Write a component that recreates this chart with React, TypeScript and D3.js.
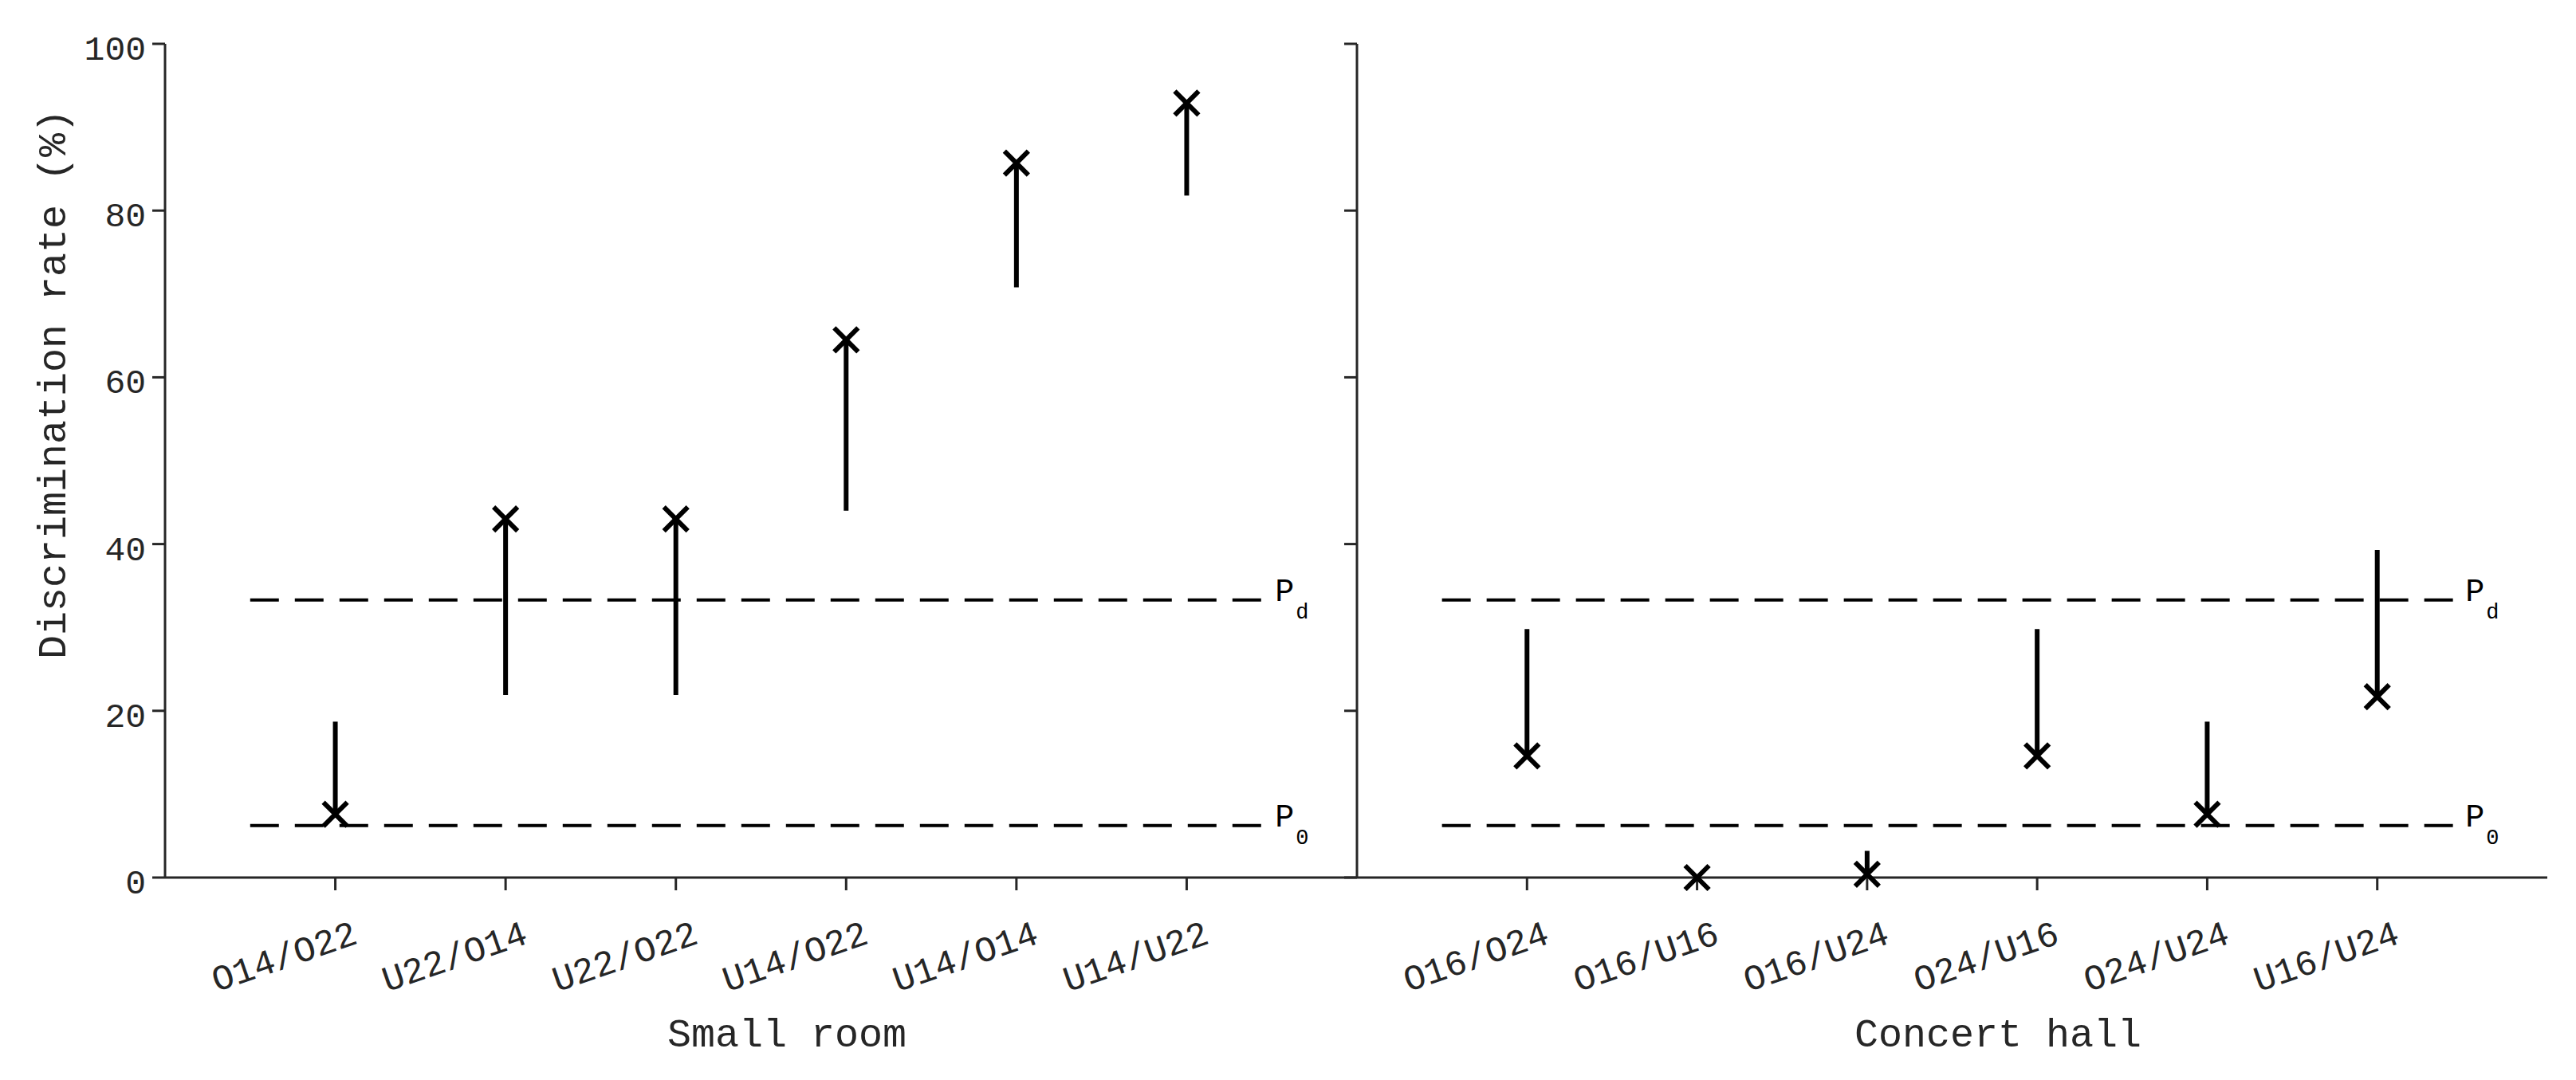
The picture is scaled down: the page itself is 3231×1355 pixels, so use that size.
import React from "react";
import * as d3 from "d3";

const smallRoomCats = ["O14/O22", "U22/O14", "U22/O22", "U14/O22", "U14/O14", "U14/U22"];
const smallRoomFrom = [18.7, 21.9, 21.9, 44.0, 70.8, 81.8];
const smallRoomTo = [7.6, 43.0, 43.0, 64.5, 85.7, 92.9];

const concertCats = ["O16/O24", "O16/U16", "O16/U24", "O24/U16", "O24/U24", "U16/U24"];
const concertFrom = [29.8, 0, 3.2, 29.8, 18.7, 39.3];
const concertTo = [14.6, 0, 0.4, 14.6, 7.6, 21.7];

const yTicks = [0, 20, 40, 60, 80, 100];
const refLines = [
  { name: "P", sub: "d", value: 33.3 },
  { name: "P", sub: "0", value: 6.25 },
];
const panelTitles = ["Small room", "Concert hall"];
const yTitle = "Discrimination rate (%)";

const W = 3231;
const H = 1355;
const FONT = "'Liberation Mono', 'Courier New', monospace";
const AX = "#262626";

const y = d3.scaleLinear().domain([0, 100]).range([1101, 55]);

const panels = [
  { cats: smallRoomCats, from: smallRoomFrom, to: smallRoomTo, x0: 207, x1: 1702, title: panelTitles[0], titleX: 987 },
  { cats: concertCats, from: concertFrom, to: concertTo, x0: 1702, x1: 3195, title: panelTitles[1], titleX: 2506 },
];

function Panel({ p, showLabels }: any) {
  const x = d3.scaleLinear().domain([0, 7]).range([p.x0, p.x1]);
  const y0 = y(0);
  return (
    <g>
      <line x1={p.x0} x2={p.x0} y1={y(100)} y2={y0} stroke={AX} strokeWidth={3} />
      {yTicks.map((t) => (
        <g key={t}>
          <line x1={p.x0 - 16} x2={p.x0} y1={y(t)} y2={y(t)} stroke={AX} strokeWidth={3} />
          {showLabels && (
            <text x={p.x0 - 24} y={y(t) + 20} textAnchor="end" fontSize={43} fontFamily={FONT} fill={AX}>
              {t}
            </text>
          )}
        </g>
      ))}
      <line x1={p.x0} x2={p.x1} y1={y0} y2={y0} stroke={AX} strokeWidth={3} />
      {p.cats.map((c: string, i: number) => {
        const cx = x(i + 1);
        return (
          <g key={c}>
            <line x1={cx} x2={cx} y1={y0} y2={y0 + 16} stroke={AX} strokeWidth={3} />
            <text
              transform={`translate(${cx + 30},${y0 + 82}) rotate(-19)`}
              textAnchor="end"
              fontSize={45}
              fontFamily={FONT}
              fill={AX}
            >
              {c}
            </text>
          </g>
        );
      })}
      {refLines.map((r) => (
        <g key={r.sub}>
          <line
            x1={x(0.5)}
            x2={x(6.5)}
            y1={y(r.value)}
            y2={y(r.value)}
            stroke="#000"
            strokeWidth={4}
            strokeDasharray="36,20"
          />
          <text x={x(6.5) + 4} y={y(r.value) + 1} fontSize={40} fontFamily={FONT} fill="#000">
            {r.name}
            <tspan fontSize={27} dx={2} dy={22}>
              {r.sub}
            </tspan>
          </text>
        </g>
      ))}
      {p.cats.map((c: string, i: number) => {
        const cx = x(i + 1);
        const ya = y(p.from[i]);
        const yb = y(p.to[i]);
        const s = 15;
        return (
          <g key={"d" + c}>
            {Math.abs(ya - yb) > 1 && <line x1={cx} x2={cx} y1={ya} y2={yb} stroke="#000" strokeWidth={6} />}
            <path
              d={`M${cx - s},${yb - s}L${cx + s},${yb + s}M${cx - s},${yb + s}L${cx + s},${yb - s}`}
              stroke="#000"
              strokeWidth={6}
              fill="none"
            />
          </g>
        );
      })}
      <text x={p.titleX} y={1313} textAnchor="middle" fontSize={50} fontFamily={FONT} fill={AX}>
        {p.title}
      </text>
    </g>
  );
}

export default function App() {
  return (
    <svg
      width={W}
      height={H}
      viewBox={`0 0 ${W} ${H}`}
      style={{ position: "absolute", left: 0, top: 0, background: "#fff" }}
    >
      <rect x={0} y={0} width={W} height={H} fill="#fff" />
      {panels.map((p, i) => (
        <Panel key={i} p={p} showLabels={i === 0} />
      ))}
      <text
        transform={`translate(82,482) rotate(-90)`}
        textAnchor="middle"
        fontSize={50}
        fontFamily={FONT}
        fill={AX}
      >
        {yTitle}
      </text>
    </svg>
  );
}
